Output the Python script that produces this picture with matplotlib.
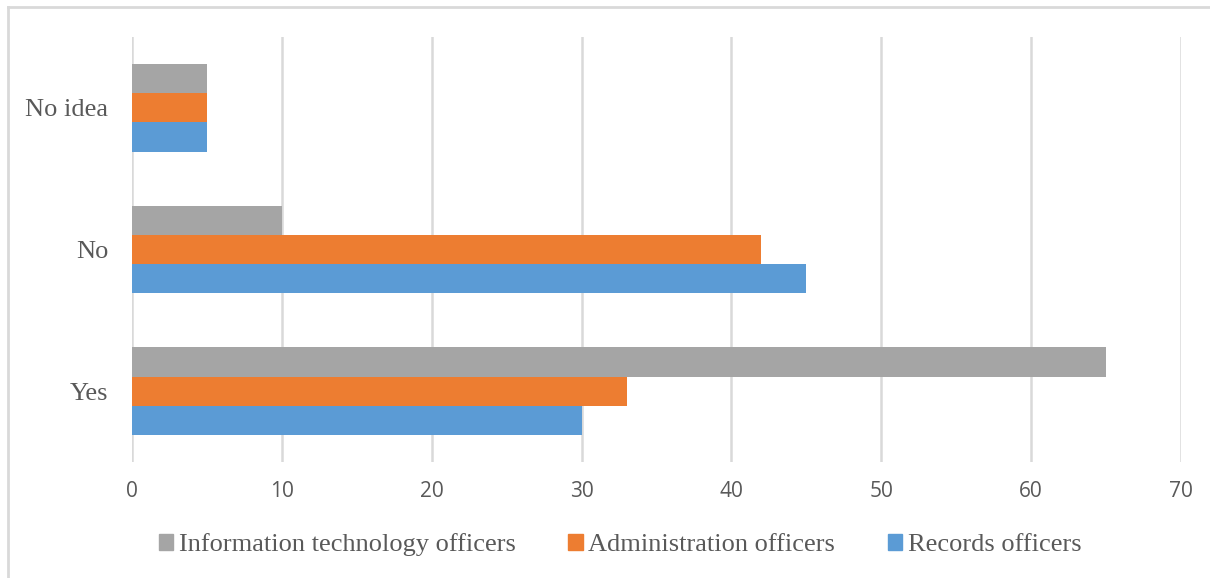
import matplotlib
matplotlib.use("Agg")
import matplotlib.pyplot as plt
from matplotlib.lines import Line2D
from matplotlib.patches import Patch
import numpy as np

categories = ["Yes", "No", "No idea"]
series_names = ["Records officers", "Administration officers", "Information technology officers"]
records = [30, 45, 5]
admin = [33, 42, 5]
it_officers = [65, 10, 5]
xticks = [0, 10, 20, 30, 40, 50, 60, 70]

colors = ["#5B9BD5", "#ED7D31", "#A5A5A5"]
text_color = "#595959"

W, H = 1210, 578
fig = plt.figure(figsize=(W / 100, H / 100), dpi=100)
ax = fig.add_axes([132 / W, 1 - 462 / H, (1181 - 132) / W, (462 - 37) / H])

y = np.arange(len(categories))
bh = 0.207
for i, (vals, c) in enumerate(zip([records, admin, it_officers], colors)):
    ax.barh(y + (i - 1) * bh, vals, height=bh, color=c, zorder=3)

ax.set_xlim(0, 70)
ax.set_ylim(-0.5, 2.5)
ax.set_xticks(xticks)
ax.set_xticklabels([str(t) for t in xticks], fontsize=15, family="Open Sans", color=text_color)
ax.set_yticks(y)
ax.set_yticklabels(categories, fontsize=19, family="Liberation Serif", color=text_color)
ax.tick_params(axis="both", length=0)
ax.tick_params(axis="x", pad=14)
ax.tick_params(axis="y", pad=17)
ax.grid(axis="x", color="#D9D9D9", linewidth=1.8, zorder=0)
for s in ax.spines.values():
    s.set_visible(False)

# Figure border (top & left)
fig.add_artist(Line2D([8 / W, 8 / W], [0, 1 - 7 / H], color="#D9D9D9", linewidth=2, transform=fig.transFigure))
fig.add_artist(Line2D([8 / W, 1], [1 - 7 / H, 1 - 7 / H], color="#D9D9D9", linewidth=2, transform=fig.transFigure))

handles = [Patch(color=colors[2]), Patch(color=colors[1]), Patch(color=colors[0])]
labels = [series_names[2], series_names[1], series_names[0]]
leg = fig.legend(handles, labels, loc="center", bbox_to_anchor=(620 / W, 1 - 545 / H), ncol=3,
                 frameon=False, handlelength=0.55, handleheight=0.55, handletextpad=0.2,
                 columnspacing=2.0, prop={"family": "Liberation Serif", "size": 19})
for t in leg.get_texts():
    t.set_color(text_color)

fig.savefig("out.png", dpi=100)
